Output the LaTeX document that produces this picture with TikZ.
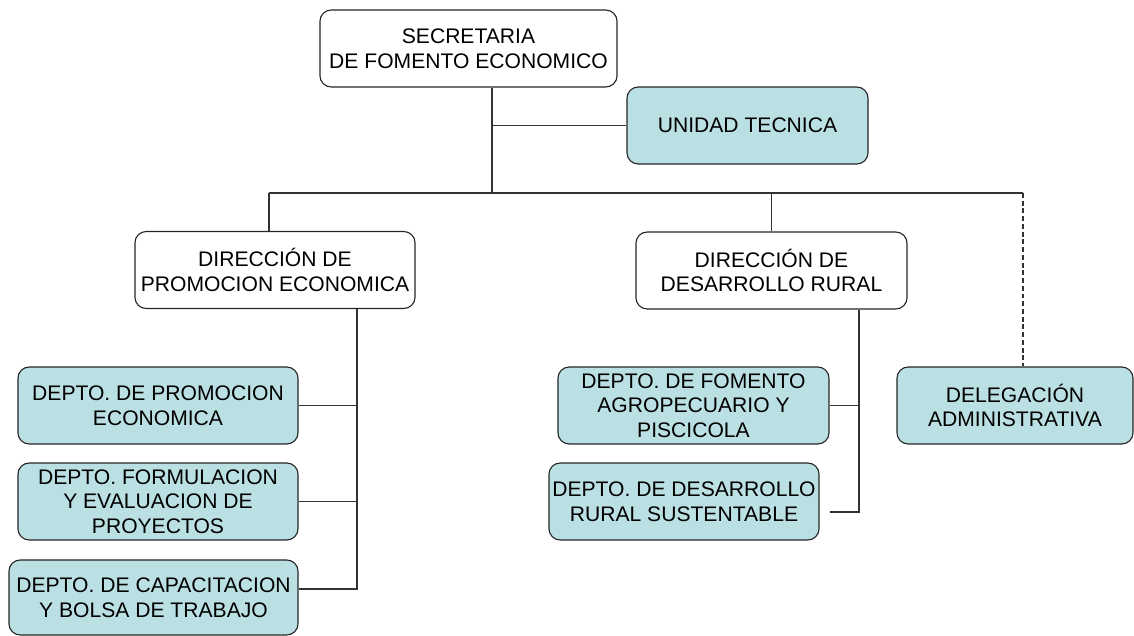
\documentclass[tikz,border=0pt]{standalone}
\usepackage{fontspec}
\setmainfont{Liberation Sans}
\definecolor{unitfill}{RGB}{187,224,227}

\begin{document}
\begin{tikzpicture}[x=0.025cm,y=-0.025cm,
  box/.style={draw=black!85,line width=0.8pt,rounded corners=8pt,align=center,
    minimum height=1.925cm,inner sep=0pt,font=\fontsize{15}{17.6}\selectfont},
  whitebox/.style={box,fill=white},
  bluebox/.style={box,fill=unitfill},
  link/.style={draw=black!80,line width=0.8pt}]
\useasboundingbox (0,0) rectangle (1134,636);

\node[whitebox,minimum width=7.425cm] (sec) at (468.5,48.5) {SECRETARIA\\DE FOMENTO ECONOMICO};
\node[bluebox,minimum width=6.025cm] (uni) at (747.5,125.5) {UNIDAD TECNICA};
\node[whitebox,minimum width=7cm] (dpe) at (275,270) {DIRECCIÓN DE\\PROMOCION ECONOMICA};
\node[whitebox,minimum width=6.775cm] (ddr) at (771.5,270.5) {DIRECCIÓN DE\\DESARROLLO RURAL};
\node[bluebox,minimum width=7cm] (d1) at (158,405.5) {DEPTO. DE PROMOCION\\ECONOMICA};
\node[bluebox,minimum width=7cm] (d2) at (158,501.5) {DEPTO. FORMULACION\\Y EVALUACION DE\\PROYECTOS};
\node[bluebox,minimum width=7.225cm,minimum height=1.875cm] (d3) at (153.5,597.5) {DEPTO. DE CAPACITACION\\Y BOLSA DE TRABAJO};
\node[bluebox,minimum width=6.775cm] (f1) at (693.5,405.5) {DEPTO. DE FOMENTO\\AGROPECUARIO Y\\PISCICOLA};
\node[bluebox,minimum width=6.75cm] (f2) at (684,501.5) {DEPTO. DE DESARROLLO\\RURAL SUSTENTABLE};
\node[bluebox,minimum width=5.9cm] (del) at (1015,405.5) {DELEGACIÓN\\ADMINISTRATIVA};

\coordinate (j1) at (492,193);
\coordinate (bl) at (269,193);
\coordinate (br) at (1023,193);
\coordinate (tl) at (357,589);
\coordinate (tr) at (859,512);

\draw[link] (j1 |- sec.south) -- (j1);
\draw[link] (j1 |- uni.west) -- (uni.west);
\draw[link] (bl) -- (br);
\draw[link] (bl) -- (bl |- dpe.north);
\draw[link] (ddr.north |- j1) -- (ddr.north);
\draw[link,dash pattern=on 3.5pt off 2pt] (br) -- (br |- del.north);

\draw[link] (tl |- dpe.south) -- (tl) -- (tl -| d3.east);
\draw[link] (d1.east) -- (d1.east -| tl);
\draw[link] (d2.east) -- (d2.east -| tl);

\draw[link] (tr |- ddr.south) -- (tr) -- (tr -| f1.east);
\draw[link] (f1.east) -- (f1.east -| tr);
\end{tikzpicture}
\end{document}
